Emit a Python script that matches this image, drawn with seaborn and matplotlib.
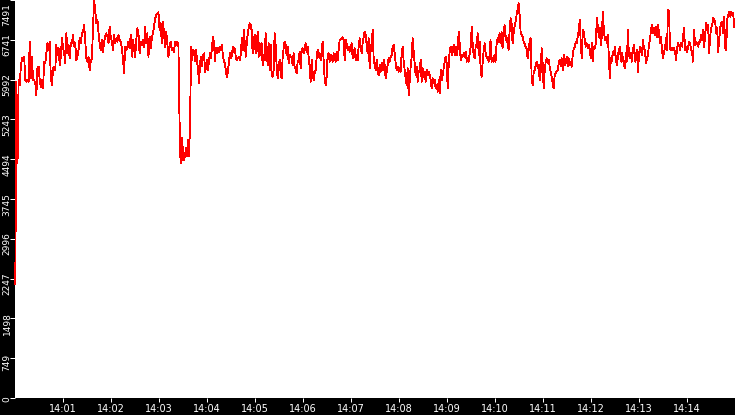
import numpy as np
import pandas as pd
import matplotlib
matplotlib.use("Agg")
import matplotlib.pyplot as plt
import matplotlib.transforms as mtransforms
import seaborn as sns

# readings, four stretches of the trace
seg_a1_span = ("2024-01-01 14:00:00", "2024-01-01 14:03:24")
seg_a1 = [2150, 5950, 4420, 5986, 5891, 6237, 6393, 6393, 6425, 5986, 5954, 5986, 5954, 6707, 6017, 6425,
          5986, 5986, 5923, 5703, 6237, 6237, 5986, 5860, 5986, 5829, 6331, 6299, 6487, 6688, 6550, 6707,
          6017, 5891, 6205, 6237, 6174, 6644, 6456, 6581, 6268, 6425, 6770, 6613, 6487, 6299, 6864, 6487,
          6644, 6393, 6676, 6676, 6832, 6613, 6676, 6362, 6425, 6550, 6770, 6676, 6864, 6895, 7021, 6738,
          6393, 6331, 6425, 6174, 6331, 6393, 6926, 7491, 7303, 7052, 7115, 6864, 6676, 6550, 6738, 6519,
          6707, 6801, 6864, 6801, 6676, 6989, 6801, 6707, 6550, 6832, 6676, 6770, 6707, 6832, 6738, 6707,
          6581, 6393, 6111, 6613, 6550, 6613, 6707, 6581, 6832, 6425, 6738, 6581, 6425, 6738, 6958, 6864,
          6487, 6707, 6644, 6738, 6613, 6989, 6676, 6864, 6425, 6801, 6581, 6770, 6864, 6989, 7146, 7209,
          7240, 7259, 6926, 7052, 6676, 7083, 6864, 6613, 6895, 6676, 6425, 6613, 6707, 6550, 6581, 6519,
          6707, 6644, 6707, 6613]

seg_a2_span = ("2024-01-01 14:03:25", "2024-01-01 14:04:52")
seg_a2 = [5546, 4543, 4417, 4888, 4480, 4480, 4605, 4700, 4543, 4856, 4543, 5358,
          6613, 6362, 6550, 6519, 6331, 6550, 6331, 6174, 5923, 6331, 6425, 6237, 6456, 6487, 6142, 6237,
          6362, 6174, 6362, 6487, 6393, 6613, 6801, 6676, 6331, 6581, 6487, 6581, 6519, 6613, 6550, 6644,
          6425, 6331, 6299, 6142, 6048, 6142, 6331, 6487, 6393, 6456, 6613, 6519, 6581, 6393, 6362, 6393,
          6425, 6362, 6487, 6770, 6550, 6926, 6676, 6425, 6707, 6864, 6989]

seg_b_span = ("2024-01-01 14:04:53", "2024-01-01 14:09:52")
seg_b = [7052, 7021, 6926, 6487, 6676, 6832, 6487, 6550, 6895, 6425, 6676, 6456, 6676, 6268, 6456, 6362,
         6864, 6613, 6268, 6676, 6174, 6644, 6080, 6048, 6174, 6864, 6644, 6268, 6017, 6174, 6362, 6142,
         6017, 6393, 6581, 6707, 6644, 6456, 6613, 6299, 6456, 6425, 6425, 6268, 6487, 6237, 6205, 6111,
         6331, 6362, 6519, 6205, 6550, 6581, 6487, 6550, 6676, 6519, 6613, 6425, 6237, 5954, 6362, 6142,
         5986, 6111, 6174, 6393, 6550, 6425, 6487, 6362, 6519, 6707, 6362, 6017, 5891, 6048, 6456, 6487,
         6331, 6456, 6425, 6331, 6487, 6425, 6331, 6519, 6362, 6550, 6738, 6751, 6770, 6788, 6738, 6362,
         6738, 6676, 6550, 6613, 6519, 6581, 6676, 6393, 6487, 6581, 6362, 6456, 6362, 6613, 6770, 6613,
         6487, 6676, 6801, 6895, 6832, 6644, 6487, 6770, 6205, 6550, 6676, 6926, 6393, 6268, 6174, 6362,
         6142, 6080, 6268, 6142, 6299, 6174, 6362, 6268, 6017, 6142, 6268, 6393, 6331, 6425, 6456, 6613,
         6644, 6487, 6299, 6174, 6237, 6142, 6205, 6142, 6487, 6613, 6331, 6174, 6017, 5891, 6205, 5703,
         5954, 6237, 6425, 6770, 6519, 6299, 6080, 6237, 5954, 6142, 6174, 6362, 5954, 6205, 6048, 6142,
         5954, 6174, 6080, 6142, 6080, 5986, 5829, 6017, 5923, 5986, 5829, 5891, 5766, 5986, 5735, 6174,
         5986, 6080, 6205, 6331, 6425, 6299, 5829, 6268, 6550, 6613, 6456, 6550, 6644, 6456, 6613, 6456,
         6581, 6895, 6676, 6362, 6456, 6425, 6487, 6425, 6519, 6331, 6393, 6331, 6487, 6613, 6989, 6644,
         6456, 6393, 6613, 6676, 6864, 6456, 6707, 6142, 6048, 6331, 6550, 6676, 6487, 6393, 6425, 6331]

seg_c_span = ("2024-01-01 14:09:53", "2024-01-01 14:14:59")
seg_c = [6393, 6738, 6331, 6393, 6331, 6456, 6331, 6644, 6770, 6707, 6864, 6676, 6895, 6581, 6801, 7021,
         6832, 6707, 6770, 6550, 6895, 7146, 7052, 6676, 6864, 6989, 7083, 7209, 7303, 7428, 7209, 6895,
         6832, 6801, 6707, 6676, 6613, 6581, 6393, 6550, 6707, 6770, 6048, 5891, 6111, 6174, 6268, 6331,
         6205, 6268, 5986, 6142, 6581, 6299, 5829, 6142, 6331, 6393, 6299, 6362, 6237, 6142, 6048, 5923,
         5829, 6080, 6111, 6142, 6174, 6299, 6362, 6237, 6393, 6174, 6456, 6268, 6331, 6425, 6237, 6393,
         6268, 6331, 6237, 6456, 6581, 6613, 6707, 6676, 6801, 6926, 7115, 6676, 6393, 6926, 6895, 6738,
         6613, 6676, 6581, 6644, 6550, 6393, 6676, 6331, 6613, 6581, 6676, 7146, 6989, 6801, 6958, 6644,
         6801, 7271, 6926, 6738, 6801, 6676, 6832, 6425, 6017, 6393, 6331, 6519, 6456, 6613, 6393, 6268,
         6425, 6550, 6613, 6331, 6487, 6393, 6299, 6205, 6487, 6331, 6926, 6456, 6393, 6487, 6331, 6550,
         6644, 6331, 6456, 6550, 6142, 6425, 6613, 6550, 6456, 6738, 6581, 6550, 6299, 6393, 6456, 6644,
         6738, 6926, 7021, 6864, 6958, 6832, 6989, 6801, 7021, 6864, 6676, 6801, 6550, 6393, 6519, 6581,
         6770, 6550, 7303, 7271, 6581, 6550, 6581, 6550, 6581, 6519, 6362, 6581, 6676, 6644, 6550, 6676,
         6613, 6801, 6958, 6550, 6613, 6519, 6581, 6707, 6676, 6550, 6519, 6331, 6926, 6644, 6707, 6676,
         6613, 6707, 6707, 6832, 6738, 6926, 6613, 6832, 7052, 6926, 7021, 6487, 6801, 6958, 7021, 7146,
         7115, 7083, 6864, 6958, 6519, 6738, 6958, 7052, 7083, 6864, 7177, 6581, 6550, 7115, 7209, 7271,
         7177, 7271, 7209, 7240, 6989]

y_ticks = [0, 749, 1498, 2247, 2996, 3745, 4494, 5243, 5992, 6741, 7491]
x_ticks = ["14:01", "14:02", "14:03", "14:04", "14:05", "14:06", "14:07",
           "14:08", "14:09", "14:10", "14:11", "14:12", "14:13", "14:14"]

parts = []
for span, vals in [(seg_a1_span, seg_a1), (seg_a2_span, seg_a2),
                   (seg_b_span, seg_b), (seg_c_span, seg_c)]:
    parts.append(pd.DataFrame({"t": pd.date_range(span[0], span[1], periods=len(vals)),
                               "v": vals}))
df = pd.concat(parts, ignore_index=True)

plt.rcParams["font.family"] = ["DejaVu Sans"]
fig = plt.figure(figsize=(7.35, 4.15), dpi=100, facecolor="black")
W, H = 735, 415
ax = fig.add_axes([15.3 / W, 17 / H, (W - 15.3) / W, 398 / H])
ax.set_facecolor("white")

sns.lineplot(data=df, x="t", y="v", ax=ax, color="red", linewidth=0.6,
             estimator=None, antialiased=False, clip_on=False)

ax.set_xlim(pd.Timestamp("2024-01-01 14:00:00"), pd.Timestamp("2024-01-01 14:15:00"))
ax.set_ylim(0, 7491)
ax.set_xlabel("")
ax.set_ylabel("")
for s in ax.spines.values():
    s.set_visible(False)

px = 0.72  # points per pixel at 100 dpi
ax.set_xticks([pd.Timestamp("2024-01-01 " + t) for t in x_ticks])
ax.set_xticklabels(x_ticks)
ax.set_yticks(y_ticks)
ax.set_yticklabels([str(v) for v in y_ticks], rotation=90, va="center")
ax.tick_params(axis="x", colors="white", length=4 * px, width=1 * px, pad=2 * px, labelsize=7)
ax.tick_params(axis="y", colors="white", length=5 * px, width=1 * px, pad=0, labelsize=6.5)

# y labels sit a little below their ticks, top one kept inside the figure
for lab in ax.get_yticklabels():
    txt = lab.get_text()
    if txt == str(y_ticks[-1]):
        lab.set_va("top")
        dy = -3
    else:
        dy = -1.3 * len(txt)
    shift = mtransforms.ScaledTranslation(1.2 / 100, dy / 100, fig.dpi_scale_trans)
    lab.set_transform(lab.get_transform() + shift)

fig.savefig("out.png", dpi=100, facecolor="black")
